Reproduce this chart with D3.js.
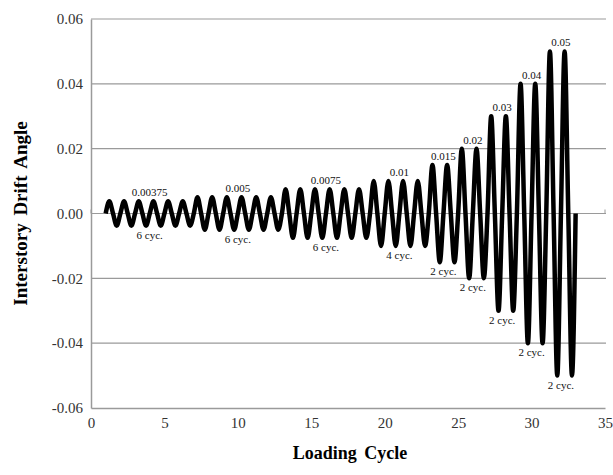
<!DOCTYPE html>
<html>
<head>
<meta charset="utf-8">
<script src="https://cdn.jsdelivr.net/npm/d3@7"></script>
<style>
  body { margin: 0; background: #fff; }
  svg { display: block; font-family: "Liberation Serif", "Times New Roman", serif; }
</style>
</head>
<body>
<svg id="chart" width="613" height="475"></svg>
<script>
// loading protocol: amplitude of each step and how many cycles it lasts
var amplitudes = [0.00375, 0.005, 0.0075, 0.01, 0.015, 0.02, 0.03, 0.04, 0.05];
var ampLabels = ["0.00375", "0.005", "0.0075", "0.01", "0.015", "0.02", "0.03", "0.04", "0.05"];
var cycleCounts = [6, 6, 6, 4, 2, 2, 2, 2, 2];
var cycLabels = ["6 cyc.", "6 cyc.", "6 cyc.", "4 cyc.", "2 cyc.", "2 cyc.", "2 cyc.", "2 cyc.", "2 cyc."];
var xTicks = [0, 5, 10, 15, 20, 25, 30, 35];
var yTicks = [-0.06, -0.04, -0.02, 0, 0.02, 0.04, 0.06];
var startCycle = 1;

var width = 613, height = 475;
var margin = { top: 19, right: 8, bottom: 67, left: 91 };

var x = d3.scaleLinear().domain([0, 35]).range([margin.left, width - margin.right]);
var y = d3.scaleLinear().domain([-0.06, 0.06]).range([height - margin.bottom, margin.top]);

var svg = d3.select("#chart");

// grid lines
svg.append("g")
  .selectAll("line")
  .data(yTicks.filter(function (d) { return d !== -0.06; }))
  .join("line")
  .attr("x1", x(0)).attr("x2", x(35) + 1)
  .attr("y1", function (d) { return y(d); })
  .attr("y2", function (d) { return y(d); })
  .attr("stroke", "#9a9a9a")
  .attr("stroke-width", 1.2);

// y axis
svg.append("g")
  .attr("transform", "translate(" + margin.left + ",0)")
  .call(d3.axisLeft(y).tickValues(yTicks).tickSize(0).tickPadding(8))
  .call(function (g) { g.select(".domain").attr("stroke", "#9a9a9a").attr("stroke-width", 1.5); })
  .call(function (g) {
    g.selectAll("text").attr("font-size", "15px").attr("fill", "#333")
      .attr("font-family", "Liberation Serif, serif")
      .text(function (d) { return d3.format(".2f")(d).replace("−", "-"); });
  });

// x axis at bottom
svg.append("g")
  .attr("transform", "translate(0," + y(-0.06) + ")")
  .call(d3.axisBottom(x).tickValues(xTicks).tickSize(0).tickPadding(9))
  .call(function (g) { g.select(".domain").attr("stroke", "#9a9a9a").attr("stroke-width", 1.5); })
  .call(function (g) {
    g.selectAll("text").attr("font-size", "15px").attr("fill", "#333")
      .attr("font-family", "Liberation Serif, serif");
  });

// small tick marks on the zero line
svg.append("g")
  .selectAll("line")
  .data(xTicks)
  .join("line")
  .attr("x1", function (d) { return x(d); })
  .attr("x2", function (d) { return x(d); })
  .attr("y1", y(0)).attr("y2", y(0) - 4)
  .attr("stroke", "#9a9a9a");

// build the wave from the protocol
var points = [];
var groups = [];
var c = startCycle;
amplitudes.forEach(function (a, i) {
  var start = c;
  for (var k = 0; k < cycleCounts[i]; k++) {
    points.push([c, 0], [c + 0.25, a], [c + 0.5, 0], [c + 0.75, -a]);
    c += 1;
  }
  groups.push({ amp: a, label: ampLabels[i], cyc: cycLabels[i], mid: (start + c) / 2 });
});
points.push([c, 0]);

var line = d3.line()
  .x(function (d) { return x(d[0]); })
  .y(function (d) { return y(d[1]); })
  .curve(d3.curveMonotoneX);

svg.append("path")
  .datum(points)
  .attr("fill", "none")
  .attr("stroke", "#000")
  .attr("stroke-width", 4.5)
  .attr("stroke-linejoin", "round")
  .attr("d", line);

// annotations
svg.append("g")
  .selectAll("text")
  .data(groups)
  .join("text")
  .attr("x", function (d) { return x(d.mid); })
  .attr("y", function (d) { return y(d.amp) - 5; })
  .attr("text-anchor", "middle")
  .attr("font-size", "11px")
  .attr("fill", "#111")
  .text(function (d) { return d.label; });

svg.append("g")
  .selectAll("text")
  .data(groups)
  .join("text")
  .attr("x", function (d) { return x(d.mid); })
  .attr("y", function (d) { return y(-d.amp) + 13; })
  .attr("text-anchor", "middle")
  .attr("font-size", "11px")
  .attr("fill", "#111")
  .text(function (d) { return d.cyc; });

// axis titles
svg.append("text")
  .attr("x", 350).attr("y", 459)
  .attr("text-anchor", "middle")
  .attr("font-size", "18px")
  .attr("font-weight", "bold")
  .attr("word-spacing", "3px")
  .text("Loading Cycle");

svg.append("text")
  .attr("transform", "translate(27," + y(0) + ") rotate(-90)")
  .attr("text-anchor", "middle")
  .attr("font-size", "19px")
  .attr("font-weight", "bold")
  .attr("word-spacing", "3px")
  .text("Interstory Drift Angle");
</script>
</body>
</html>
